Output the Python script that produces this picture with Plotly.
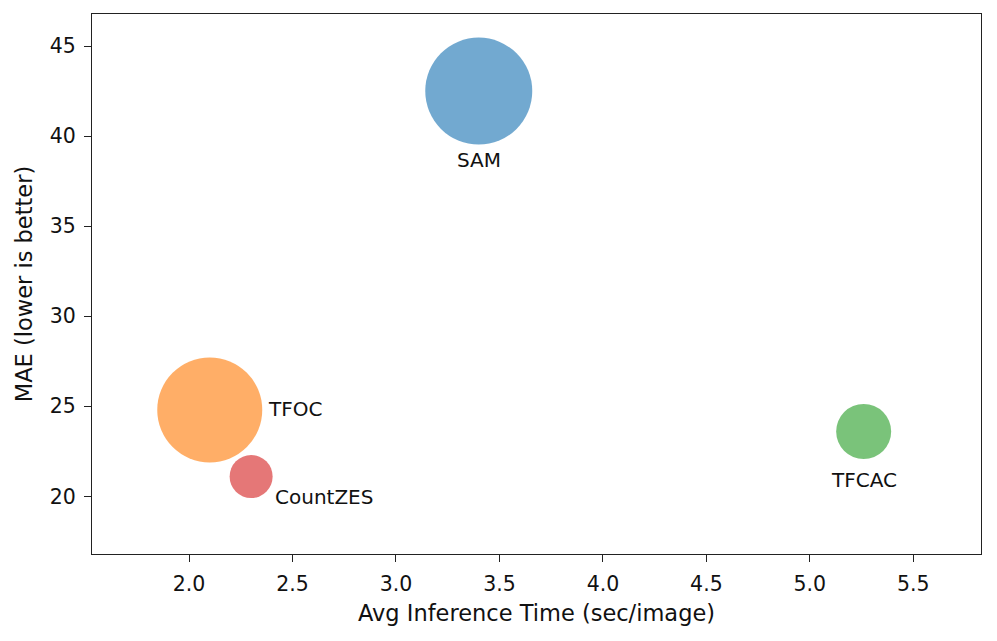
import plotly.graph_objects as go

methods = ["SAM", "TFOC", "CountZES", "TFCAC"]
inference_time = [3.40, 2.10, 2.30, 5.26]
mae = [42.5, 24.8, 21.1, 23.6]
bubble_size = [107, 105, 43, 55]
colors = ["#1f77b4", "#ff7f0e", "#d62728", "#2ca02c"]

x_ticks = [2.0, 2.5, 3.0, 3.5, 4.0, 4.5, 5.0, 5.5]
y_ticks = [20, 25, 30, 35, 40, 45]

# label placement (anchor, shift) per method
label_pos = {
    "SAM": dict(xanchor="center", yanchor="middle", xshift=0, yshift=-69),
    "TFOC": dict(xanchor="left", yanchor="middle", xshift=56, yshift=1),
    "CountZES": dict(xanchor="left", yanchor="middle", xshift=22, yshift=-20),
    "TFCAC": dict(xanchor="center", yanchor="middle", xshift=0, yshift=-48),
}

FONT = "DejaVu Sans"

fig = go.Figure()
for m, x, y, s, c in zip(methods, inference_time, mae, bubble_size, colors):
    fig.add_trace(go.Scatter(
        x=[x], y=[y], mode="markers", name=m,
        marker=dict(size=s, sizemode="diameter", color=c, opacity=0.63,
                    line=dict(width=0)),
        showlegend=False,
    ))
    fig.add_annotation(x=x, y=y, text=m, showarrow=False,
                       font=dict(family=FONT, size=20, color="#111111"),
                       **label_pos[m])

axis_common = dict(
    showline=True, linecolor="#222222", linewidth=1.3, mirror=True,
    ticks="outside", ticklen=7, tickwidth=1.3, tickcolor="#222222",
    showgrid=False, zeroline=False, ticklabelstandoff=4,
    tickfont=dict(family=FONT, size=20.5, color="#111111"),
)

fig.update_layout(
    width=989, height=625,
    margin=dict(l=84, r=16, t=6, b=79, autoexpand=False),
    paper_bgcolor="white", plot_bgcolor="white",
    xaxis=dict(range=[1.531, 5.827], tickvals=x_ticks,
               ticktext=[f"{v:.1f}" for v in x_ticks],
               title=dict(text="Avg Inference Time (sec/image)",
                          font=dict(family=FONT, size=22.5, color="#111111"),
                          standoff=10),
               automargin=False,
               **axis_common),
    yaxis=dict(range=[16.8, 46.78], tickvals=y_ticks,
               ticktext=[str(v) for v in y_ticks],
               title=dict(text="MAE (lower is better)",
                          font=dict(family=FONT, size=22.5, color="#111111"),
                          standoff=10),
               automargin=False,
               **axis_common),
)

fig.write_html("out.html")
